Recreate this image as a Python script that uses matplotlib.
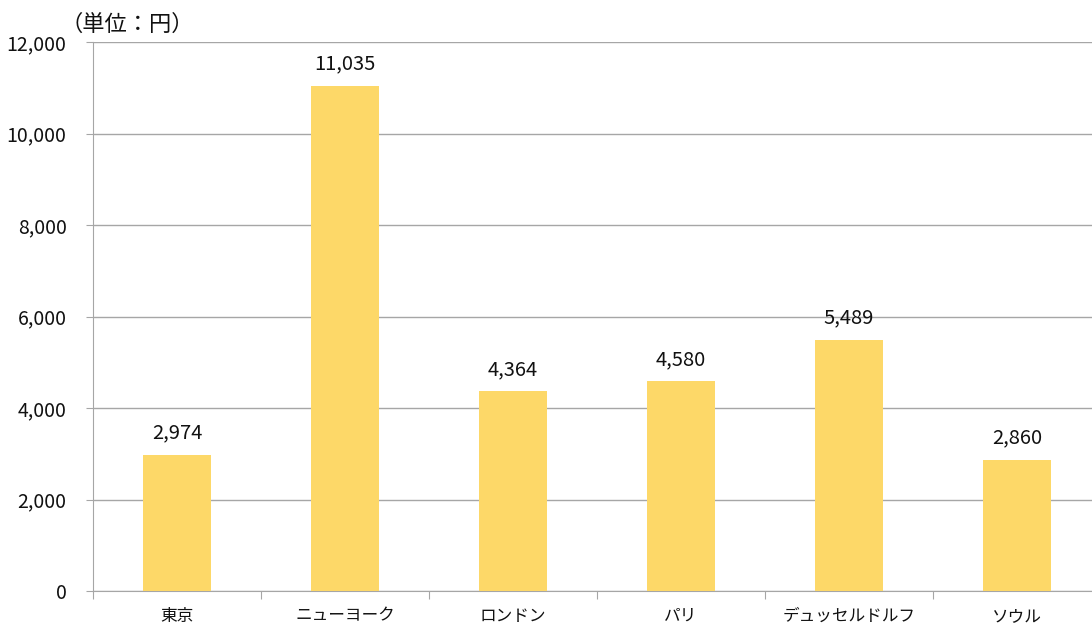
import matplotlib
matplotlib.use("Agg")
import matplotlib.pyplot as plt
from matplotlib.ticker import FuncFormatter

plt.rcParams['font.family'] = ['Noto Sans CJK JP', 'DejaVu Sans']

# データ
cities = ['東京', 'ニューヨーク', 'ロンドン', 'パリ', 'デュッセルドルフ', 'ソウル']
prices = [2974, 11035, 4364, 4580, 5489, 2860]
y_ticks = [0, 2000, 4000, 6000, 8000, 10000, 12000]

bar_color = '#FDD868'
grid_color = '#A6A6A6'

fig = plt.figure(figsize=(10.92, 6.28), dpi=100)
# 右端は画像の外まで少しはみ出す
ax = fig.add_axes([93/1092, 1-591/628, (1101-93)/1092, (591-42)/628])

x = list(range(len(cities)))
bars = ax.bar(x, prices, width=0.4, color=bar_color, zorder=3)
for b, v in zip(bars, prices):
    ax.text(b.get_x() + b.get_width()/2, v + 250, f'{v:,}', ha='center', va='bottom',
            fontsize=14.5, color='#111111')

ax.set_ylim(0, 12000)
ax.set_xlim(-0.5, 5.5)
ax.set_yticks(y_ticks)
ax.yaxis.set_major_formatter(FuncFormatter(lambda v, p: f'{int(v):,}'))
ax.yaxis.grid(True, color=grid_color, linewidth=1, zorder=0)

# カテゴリ境界に目盛り
ax.set_xticks([i + 0.5 for i in range(-1, len(cities))])
ax.set_xticklabels([])
ax.set_xticks(x, minor=True)
ax.set_xticklabels(cities, minor=True, fontsize=12, color='#111111')
ax.tick_params(axis='x', which='major', length=6, color=grid_color, direction='out')
ax.tick_params(axis='x', which='minor', length=0, pad=12)
ax.tick_params(axis='y', length=5, color=grid_color, labelsize=14, labelcolor='#111111', pad=14)

for s in ['top', 'right']:
    ax.spines[s].set_visible(False)
for s in ['left', 'bottom']:
    ax.spines[s].set_color(grid_color)

fig.text(60/1092, 1-24/628, '（単位：円）', fontsize=16, va='center', ha='left', color='#111111')

fig.savefig('out.png', dpi=100)
